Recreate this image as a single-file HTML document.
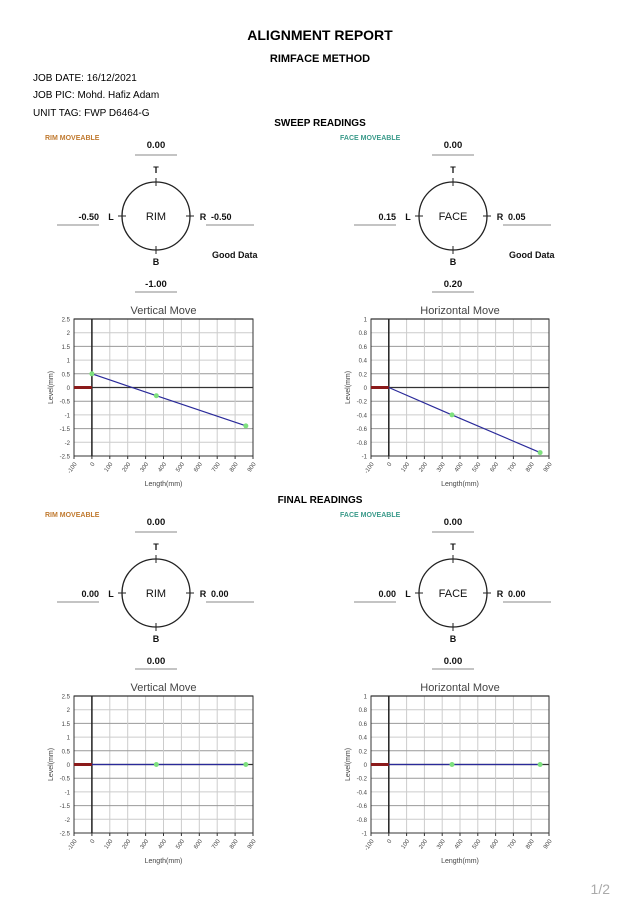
<!DOCTYPE html>
<html><head><meta charset="utf-8"><style>
html,body{margin:0;padding:0;background:#fff;}
svg{display:block;font-family:"Liberation Sans",sans-serif;}
</style></head><body>
<svg id="s" width="638" height="900" viewBox="0 0 638 900" xmlns="http://www.w3.org/2000/svg">
<text x="320" y="40" font-size="14" font-weight="bold" text-anchor="middle">ALIGNMENT REPORT</text>
<text x="320" y="62" font-size="11" font-weight="bold" text-anchor="middle">RIMFACE METHOD</text>
<text x="33" y="81" font-size="10">JOB DATE: 16/12/2021</text>
<text x="33" y="98" font-size="10">JOB PIC: Mohd. Hafiz Adam</text>
<text x="33" y="116" font-size="10">UNIT TAG: FWP D6464-G</text>
<text x="320" y="126" font-size="10" font-weight="bold" text-anchor="middle">SWEEP READINGS</text>
<text x="320" y="503" font-size="10" font-weight="bold" text-anchor="middle">FINAL READINGS</text>
<text x="610" y="894" font-size="14" fill="#aaa" text-anchor="end">1/2</text>
<g id="g"></g>
</svg>
<script>
var g=document.getElementById('g'),h='';
function T(x,y,t,o){o=o||{};h+='<text x="'+x+'" y="'+y+'" font-size="'+(o.s||9)+'" '+(o.b!==false?'font-weight="bold" ':'')+'fill="'+(o.c||'#111')+'" text-anchor="'+(o.a||'middle')+'"'+(o.tr?' transform="'+o.tr+'"':'')+'>'+t+'</text>';}
function L(x1,y1,x2,y2,c,w){h+='<line x1="'+x1+'" y1="'+y1+'" x2="'+x2+'" y2="'+y2+'" stroke="'+c+'" stroke-width="'+(w||1)+'"/>';}
function dial(cx,cy,name,mv,mc,t,l,r,b,good,dy){
 T(cx-111+(mv=='FACE MOVEABLE'?-2:0),cy-76+dy,mv,{s:7,c:mc,a:'start'});
 T(cx,cy-68,t,{s:9.5});L(cx-21,cy-61,cx+21,cy-61,'#888');
 T(cx,cy-43,'T',{s:9});
 h+='<circle cx="'+cx+'" cy="'+cy+'" r="34" fill="none" stroke="#222" stroke-width="1.3"/>';
 L(cx,cy-38,cx,cy-30,'#222');L(cx,cy+30,cx,cy+38,'#222');L(cx-38,cy,cx-30,cy,'#222');L(cx+30,cy,cx+38,cy,'#222');
 T(cx,cy+4,name,{s:11,b:false});
 T(cx-45,cy+4,'L',{s:9});T(cx+47,cy+4,'R',{s:9});
 T(cx-57,cy+4,l,{s:9,a:'end'});L(cx-99,cy+9,cx-57,cy+9,'#888');
 T(cx+55,cy+4,r,{s:9,a:'start'});L(cx+50,cy+9,cx+98,cy+9,'#888');
 T(cx,cy+49,'B',{s:9});
 T(cx,cy+71,b,{s:9.5});L(cx-21,cy+76,cx+21,cy+76,'#888');
 if(good)T(cx+56,cy+42,'Good Data',{s:9,a:'start'});
}
function chart(x0,x1,y0,y1,title,ymax,ystep,labs,pts){
 var w=x1-x0,H=y1-y0;
 function X(v){return x0+(v+100)/1000*w;}
 function Y(v){return y0+(ymax-v)/(2*ymax)*H;}
 T((x0+x1)/2,y0-5,title,{s:11,b:false,c:'#444'});
 for(var i=0;i<=10;i++){var xx=x0+i*w/10,yy=y0+i*H/10;L(xx,y0,xx,y1,'#ccc');L(x0,yy,x1,yy,i%2==0?'#999':'#ccc');}
 L(x0,Y(ymax),x1,Y(ymax),'#333',1.2);
 h+='<rect x="'+x0+'" y="'+y0+'" width="'+w+'" height="'+H+'" fill="none" stroke="#333" stroke-width="1"/>';
 L(X(0),y0,X(0),y1,'#222',1.5);L(x0,Y(0),x1,Y(0),'#333',1.2);
 L(X(-100),Y(0),X(0),Y(0),'#8b1a1a',3);
 for(var i=0;i<=10;i++){var v=(ymax-i*ystep);T(x0-4,y0+i*H/10+2.5,labs[i],{s:6,b:false,c:'#444',a:'end'});
  var xv=-100+i*100,xx=x0+i*w/10;T(xx+3,y1+8,xv,{s:6,b:false,c:'#444',a:'end',tr:'rotate(-55 '+(xx+3)+' '+(y1+8)+')'});
  L(xx,y1,xx,y1+3,'#333');}
 T((x0+x1)/2,y1+30,'Length(mm)',{s:7,b:false,c:'#444'});
 T(x0-21,(y0+y1)/2,'Level(mm)',{s:7,b:false,c:'#444',tr:'rotate(-90 '+(x0-21)+' '+((y0+y1)/2)+')'});
 var p='';pts.forEach(function(q){p+=X(q[0])+','+Y(q[1])+' ';});
 h+='<polyline points="'+p+'" fill="none" stroke="#2a2a9a" stroke-width="1.2"/>';
 pts.forEach(function(q,k){if(k>0||q[1]!=0)h+='<circle cx="'+X(q[0])+'" cy="'+Y(q[1])+'" r="2.5" fill="#7ee07e"/>';});
}
var lv=['2.5','2','1.5','1','0.5','0','-0.5','-1','-1.5','-2','-2.5'];
var hv=['1','0.8','0.6','0.4','0.2','0','-0.2','-0.4','-0.6','-0.8','-1'];
dial(156,216,'RIM','RIM MOVEABLE','#c07a30','0.00','-0.50','-0.50','-1.00',true,0);
dial(453,216,'FACE','FACE MOVEABLE','#3a9a8a','0.00','0.15','0.05','0.20',true,0);
dial(156,593,'RIM','RIM MOVEABLE','#c07a30','0.00','0.00','0.00','0.00',false,0);
dial(453,593,'FACE','FACE MOVEABLE','#3a9a8a','0.00','0.00','0.00','0.00',false,0);
chart(74,253,319,456,'Vertical  Move',2.5,0.5,lv,[[0,0.5],[360,-0.3],[860,-1.4]]);
chart(371,549,319,456,'Horizontal Move',1,0.2,hv,[[0,0],[355,-0.4],[850,-0.95]]);
chart(74,253,696,833,'Vertical  Move',2.5,0.5,lv,[[0,0],[360,0],[860,0]]);
chart(371,549,696,833,'Horizontal Move',1,0.2,hv,[[0,0],[355,0],[850,0]]);
g.innerHTML=h;
</script>
</body></html>
